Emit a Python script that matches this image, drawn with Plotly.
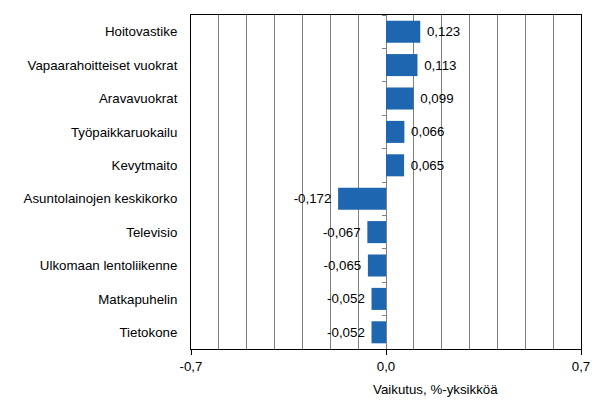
import plotly.graph_objects as go

# tiedot (ylhäältä alas)
nimikkeet = ['Hoitovastike', 'Vapaarahoitteiset vuokrat', 'Aravavuokrat', 'Työpaikkaruokailu',
             'Kevytmaito', 'Asuntolainojen keskikorko', 'Televisio', 'Ulkomaan lentoliikenne',
             'Matkapuhelin', 'Tietokone']
vaikutus = [0.123, 0.113, 0.099, 0.066, 0.065, -0.172, -0.067, -0.065, -0.052, -0.052]
x_tikit = [-0.7, 0.0, 0.7]
x_tikki_teksti = ['-0,7', '0,0', '0,7']
akselin_otsikko = 'Vaikutus, %-yksikköä'

# arvot pilkulla, pieni väli palkin päästä
tekstit = []
for v in vaikutus:
    s = '{:.3f}'.format(v).replace('.', ',')
    tekstit.append('\u00a0' + s if v >= 0 else s + '\u00a0')

fig = go.Figure()
fig.add_trace(go.Bar(
    x=vaikutus,
    y=nimikkeet,
    orientation='h',
    marker=dict(color='#1f66b0', line=dict(width=0)),
    text=tekstit,
    textposition='outside',
    textfont=dict(size=13.3, color='#000000'),
    cliponaxis=False,
    hoverinfo='skip',
))
# näkymätön sarja nolla-akselin tikkejä varten
fig.add_trace(go.Bar(
    x=vaikutus,
    y=nimikkeet,
    orientation='h',
    yaxis='y2',
    marker=dict(opacity=0),
    hoverinfo='skip',
    showlegend=False,
))

fig.update_layout(
    width=599, height=410,
    margin=dict(l=183, r=26, t=7, b=69),
    plot_bgcolor='white', paper_bgcolor='white',
    font=dict(family='Liberation Sans, Arial', size=13.3, color='#000000'),
    showlegend=False,
    barmode='overlay',
    bargap=0.34,
    xaxis=dict(
        range=[-0.7, 0.7],
        tickvals=x_tikit, ticktext=x_tikki_teksti,
        ticks='outside', ticklen=5, tickcolor='#000000',
        showline=True, linecolor='#000000', linewidth=1, mirror=True,
        showgrid=True, gridcolor='#808080', gridwidth=1,
        minor=dict(dtick=0.1, showgrid=True, gridcolor='#808080', gridwidth=1),
        zeroline=True, zerolinecolor='#808080', zerolinewidth=1,
        tickfont=dict(size=13.3),
    ),
    yaxis=dict(
        autorange='reversed',
        categoryorder='array', categoryarray=nimikkeet,
        showline=True, linecolor='#000000', linewidth=1, mirror=True,
        showgrid=False, ticks='', ticklabelstandoff=10,
        tickfont=dict(size=13.3),
    ),
    yaxis2=dict(
        overlaying='y', anchor='free', position=0.5,
        autorange='reversed',
        categoryorder='array', categoryarray=nimikkeet,
        showticklabels=False, showgrid=False,
        ticks='outside', tickson='boundaries', ticklen=4, tickcolor='#808080',
        showline=False,
    ),
)

fig.add_annotation(
    text=akselin_otsikko, xref='paper', yref='paper',
    x=0.626, y=0, yshift=-40, yanchor='middle', showarrow=False,
    font=dict(size=13.3),
)

fig.write_html('out.html')
